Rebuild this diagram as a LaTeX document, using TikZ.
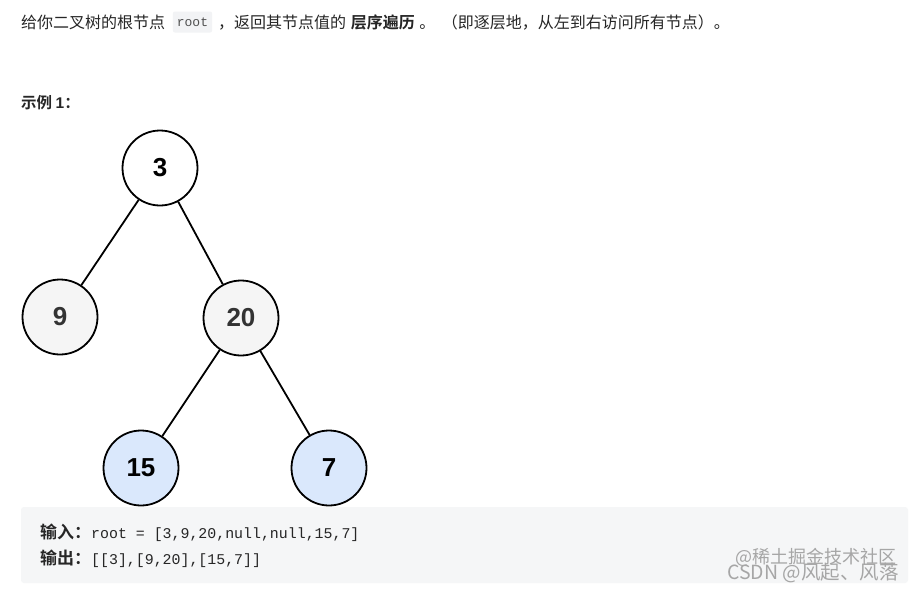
\documentclass[tikz,border=0pt]{standalone}
\usepackage{fontspec}
\setmainfont{Liberation Sans}
\newfontfamily\cjk{Noto Sans CJK SC}
\newfontfamily\cjkb{Noto Sans CJK SC Bold}
\newfontfamily\codefont{Liberation Mono}
\newfontfamily\numfont{Liberation Sans}
\definecolor{txt}{HTML}{262626}
\definecolor{codebg}{HTML}{F5F6F7}
\definecolor{inlinebg}{HTML}{F2F3F5}
\definecolor{greyfill}{HTML}{F5F5F5}
\definecolor{bluefill}{HTML}{DAE8FC}
\definecolor{numgrey}{HTML}{333333}
\begin{document}
\begin{tikzpicture}[x=1pt,y=-1pt,
  treenode/.style={circle,draw=black,line width=1.8pt,minimum size=75pt,inner sep=0pt,
    font=\numfont\fontsize{26}{26}\selectfont\bfseries},
  edge/.style={line width=1.8pt,draw=black},
  para/.style={anchor=west,inner sep=0pt,text=txt,font=\cjk\fontsize{16}{18}\selectfont},
  codeline/.style={anchor=west,inner sep=0pt,text=txt},
  wm/.style={anchor=west,inner sep=0pt,text=gray!70,font=\cjk\fontsize{18}{20}\selectfont}
]
\useasboundingbox (0,0) rectangle (914,590);
\fill[white] (0,0) rectangle (914,590);

% top paragraph
\node[para] (p1) at (21,22) {给你二叉树的根节点};
\node[fill=inlinebg,rounded corners=2pt,inner xsep=4pt,inner ysep=0pt,minimum height=21pt,
  font=\codefont\fontsize{13}{13}\selectfont,text=txt!80] (code) at (192.5,22) {root};
\node[para] (p2) at (218,22) {，返回其节点值的\hspace{1pt} {\cjkb 层序遍历}\hspace{1pt} 。\hspace{3pt} （即逐层地，从左到右访问所有节点）。};

\node[para,font=\cjkb\fontsize{15.5}{17}\selectfont] (ex) at (21,103) {示例 {\numfont\bfseries 1}：};

% tree
\node[treenode,fill=white] (n3) at (160,168) {3};
\node[treenode,fill=greyfill,text=numgrey] (n9) at (60,317) {9};
\node[treenode,fill=greyfill,text=numgrey] (n20) at (241,318) {20};
\node[treenode,fill=bluefill] (n15) at (141,468) {15};
\node[treenode,fill=bluefill] (n7) at (329,468) {7};
\draw[edge] (n3) -- (n9);
\draw[edge] (n3) -- (n20);
\draw[edge] (n20) -- (n15);
\draw[edge] (n20) -- (n7);

% code block
\fill[codebg,rounded corners=3pt] (21,507) rectangle (908,583);
\node[codeline] (in) at (40,533) {{\cjkb\fontsize{17}{18}\selectfont 输入：}{\codefont\fontsize{14.9}{16}\selectfont root = [3,9,20,null,null,15,7]}};
\node[codeline] (out) at (40,559) {{\cjkb\fontsize{17}{18}\selectfont 输出：}{\codefont\fontsize{14.9}{16}\selectfont [[3],[9,20],[15,7]]}};

% watermarks
\node[wm] (w1) at (735,557) {@稀土掘金技术社区};
\node[wm,font=\cjk\fontsize{19.5}{20}\selectfont] (w2) at (727,573) {CSDN @风起、风落};
\end{tikzpicture}
\end{document}
